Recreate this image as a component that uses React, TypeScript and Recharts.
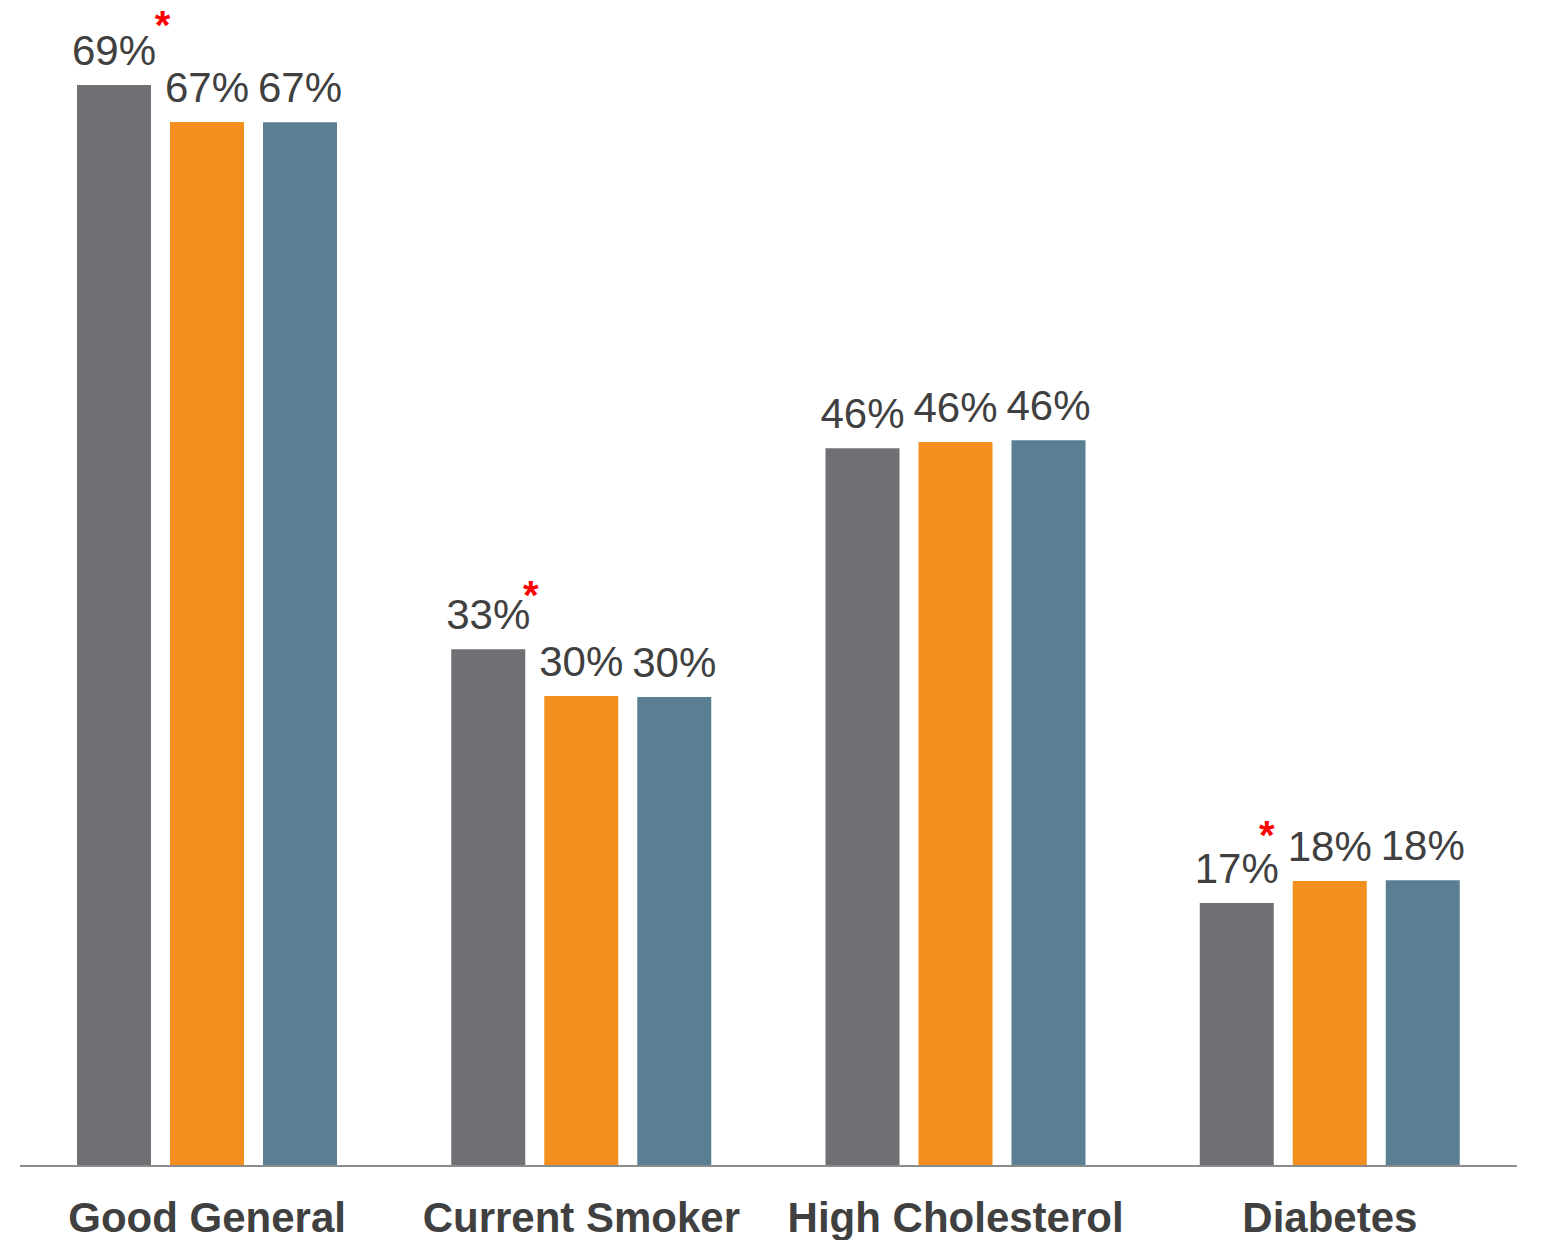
import React from 'react';
import { BarChart, Bar, XAxis, YAxis } from 'recharts';

// Health indicator shares (%) for three comparison groups
const categories = ['Good General', 'Current Smoker', 'High Cholesterol', 'Diabetes'];
const seriesA = [69.04, 33.0, 45.84, 16.8];
const seriesB = [66.68, 30.02, 46.24, 18.2];
const seriesC = [66.66, 29.95, 46.35, 18.25];
// Statistically significant differences, flagged with a red asterisk on the first group
const significant = [true, true, false, true];

const rows = categories.map((category, i) => ({
  category,
  seriesA: seriesA[i],
  seriesB: seriesB[i],
  seriesC: seriesC[i],
}));

const FONT = '"Liberation Sans", Arial, Helvetica, sans-serif';
const TEXT_COLOR = '#404040';
const COLORS = { seriesA: '#706F74', seriesB: '#F28F1F', seriesC: '#5B7F92' };

// Asterisk placement (glyph centre) relative to the bar's top-centre, per category
const STAR_OFFSETS: Record<number, [number, number]> = {
  0: [48.5, -69],
  1: [42.5, -63],
  3: [30, -77],
};
const STAR_SIZE = 40;

const ValueLabel = (props: any) => {
  const { x, y, width, value, index, withStar } = props;
  const cx = Number(x) + Number(width) / 2;
  const top = Number(y);
  const star = withStar && significant[index] ? STAR_OFFSETS[index] : null;
  return (
    <text
      x={cx}
      y={top - 20}
      textAnchor="middle"
      fontFamily={FONT}
      fontSize={42}
      fill={TEXT_COLOR}
    >
      {`${Math.round(Number(value))}%`}
      {star && (
        <tspan
          x={cx + star[0]}
          y={top + star[1] + STAR_SIZE * 0.57}
          fontSize={STAR_SIZE}
          fontWeight="bold"
          fill="#FF0000"
        >
          *
        </tspan>
      )}
    </text>
  );
};

const CategoryTick = (props: any) => {
  const { x, y, payload } = props;
  return (
    <text
      x={x}
      y={Number(y) + 66}
      textAnchor="middle"
      fontFamily={FONT}
      fontSize={42}
      fontWeight="bold"
      fill={TEXT_COLOR}
    >
      {payload.value}
    </text>
  );
};

export default function App() {
  return (
    <div style={{ position: 'absolute', left: 0, top: 0, background: '#ffffff' }}>
      <BarChart
        width={1543}
        height={1240}
        data={rows}
        margin={{ top: 70, right: 26, bottom: 0, left: 20 }}
        barGap={19}
        barSize={74}
      >
        <XAxis
          dataKey="category"
          height={74}
          tickLine={false}
          tickSize={0}
          tickMargin={0}
          axisLine={{ stroke: '#8C8C8C', strokeWidth: 2 }}
          tick={<CategoryTick />}
          interval={0}
        />
        <YAxis hide domain={[0, 70]} allowDataOverflow />
        <Bar
          dataKey="seriesA"
          fill={COLORS.seriesA}
          barSize={74}
          isAnimationActive={false}
          label={(p: any) => <ValueLabel {...p} withStar />}
        />
        <Bar
          dataKey="seriesB"
          fill={COLORS.seriesB}
          barSize={74}
          isAnimationActive={false}
          label={(p: any) => <ValueLabel {...p} />}
        />
        <Bar
          dataKey="seriesC"
          fill={COLORS.seriesC}
          barSize={74}
          isAnimationActive={false}
          label={(p: any) => <ValueLabel {...p} />}
        />
      </BarChart>
    </div>
  );
}
